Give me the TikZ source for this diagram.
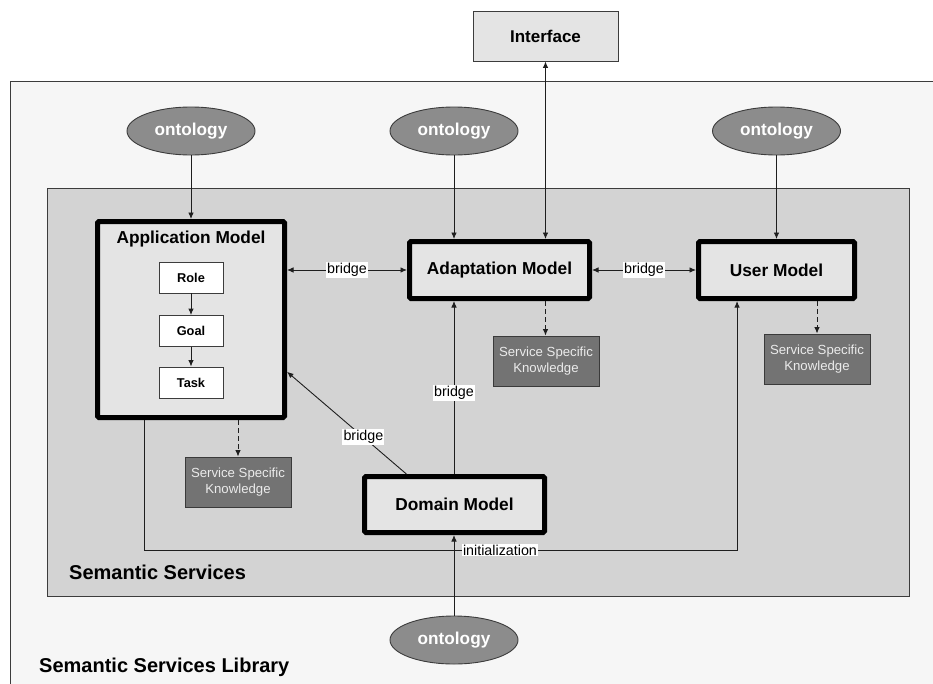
\documentclass[tikz,border=0pt]{standalone}
\usepackage{fontspec}
\setmainfont{Liberation Sans}
\usetikzlibrary{arrows.meta,calc,shapes.geometric}

\definecolor{libfill}{HTML}{F6F6F6}
\definecolor{svcfill}{HTML}{D3D3D3}
\definecolor{modelfill}{HTML}{E4E4E4}
\definecolor{ontofill}{HTML}{8C8C8C}
\definecolor{sskfill}{HTML}{737373}
\definecolor{sskline}{HTML}{3A3A3A}
\definecolor{frame}{HTML}{3C3C3C}
\definecolor{wire}{HTML}{1E1E1E}

\tikzset{
  model/.style={draw=black, line width=5pt, fill=modelfill, rounded corners=1.5pt,
    inner sep=0pt, font=\bfseries\fontsize{17.3}{20}\selectfont},
  ontology/.style={ellipse, draw=frame, line width=0.9pt, fill=ontofill,
    minimum width=128pt, minimum height=48pt, inner sep=0pt,
    text=white, font=\bfseries\fontsize{17.2}{19}\selectfont},
  inner/.style={draw=frame, line width=0.9pt, fill=white, minimum width=64pt,
    minimum height=31pt, inner sep=0pt, font=\bfseries\fontsize{12.8}{14}\selectfont},
  ssk/.style={draw=sskline, line width=0.9pt, fill=sskfill, minimum width=106pt,
    minimum height=50pt, inner sep=0pt, align=center, text=white!92!black,
    font=\fontsize{13.2}{15.5}\selectfont},
  conn/.style={draw=wire, line width=0.9pt},
  tip/.style={-{Latex[length=6.5pt,width=5.5pt]}},
  twotips/.style={{Latex[length=6.5pt,width=5.5pt]}-{Latex[length=6.5pt,width=5.5pt]}},
  dashedlink/.style={draw=wire, line width=0.9pt, dashed, dash pattern=on 5pt off 3pt,
    -{Latex[length=6.5pt,width=5.5pt]}},
  lbl/.style={fill=white, inner sep=1.2pt, font=\fontsize{14.3}{16}\selectfont},
  heading/.style={anchor=west, inner sep=0pt, font=\bfseries\fontsize{20}{23}\selectfont}
}

\begin{document}
\begin{tikzpicture}[x=1pt,y=-1pt]
\useasboundingbox (0,0) rectangle (933,683);
\fill[white] (0,0) rectangle (933,683);

% library frame (runs off the right and bottom edges)
\draw[draw=frame, line width=0.9pt, fill=libfill] (10,81) rectangle (940,690);
% semantic services area
\draw[draw=frame, line width=0.9pt, fill=svcfill] (47,188) rectangle (909,596);

% interface
\node[draw=frame, line width=0.9pt, fill=modelfill, minimum width=145pt, minimum height=50pt,
  inner sep=0pt, font=\bfseries\fontsize{17}{19}\selectfont] (iface) at (545.5,36) {Interface};

% ontologies
\node[ontology] (ont1) at (191,131) {ontology};
\node[ontology] (ont2) at (454,131) {ontology};
\node[ontology] (ont3) at (776.5,131) {ontology};
\node[ontology] (ont4) at (454,640) {ontology};

% models
\node[model, minimum width=187pt, minimum height=196pt] (app) at (191,319.5) {};
\node[inner sep=0pt, font=\bfseries\fontsize{17.3}{20}\selectfont] (apptitle) at (191,239) {Application Model};
\node[inner] (role) at (191,277.5) {Role};
\node[inner] (goal) at (191,331) {Goal};
\node[inner] (task) at (191,382.5) {Task};

\node[model, minimum width=180pt, minimum height=57pt] (adapt) at (499.5,270) {Adaptation Model};
\node[model, minimum width=156pt, minimum height=57pt] (user) at (776.5,270) {User Model};
\node[model, minimum width=180pt, minimum height=56pt] (domain) at (454.5,504.5) {Domain Model};

% service specific knowledge
\node[ssk] (ssk1) at (238,482) {Service Specific\\Knowledge};
\node[ssk] (ssk2) at (546,361) {Service Specific\\Knowledge};
\node[ssk] (ssk3) at (817,359) {Service Specific\\Knowledge};

% ontology links
\draw[conn, tip] (ont1.south) -- (ont1.south |- app.north);
\draw[conn, tip] (ont2.south) -- (ont2.south |- adapt.north);
\draw[conn, tip] (ont3.south) -- (ont3.south |- user.north);
\draw[conn, tip] (ont4.north) -- (ont4.north |- domain.south);
\draw[conn, twotips] (iface.south) -- (iface.south |- adapt.north);

% inner chain
\draw[conn, tip] (role.south) -- (goal.north);
\draw[conn, tip] (goal.south) -- (task.north);

% bridges
\draw[conn, twotips] (app.east |- adapt.west) -- node[lbl] (b1) {bridge} (adapt.west);
\draw[conn, twotips] (adapt.east) -- node[lbl] (b2) {bridge} (user.west);
\draw[conn, tip] (domain.north -| ont2.south) -- node[lbl, pos=0.47] (b3) {bridge} (ont2.south |- adapt.south);
\coordinate (dmleft) at ($(domain.north west)!0.24!(domain.north east)$);
\coordinate (amright) at ($(app.north east)!0.76!(app.south east)$);
\draw[conn, tip] (dmleft) -- node[lbl, pos=0.36] (b4) {bridge} (amright);

% initialization
\coordinate (initstart) at ($(app.south west)!0.255!(app.south east)$);
\coordinate (initend) at ($(user.south west)!0.255!(user.south east)$);
\coordinate (initcorner) at (initstart |- 0,550);
\draw[conn, tip] (initstart) -- (initcorner) -- (initcorner -| initend) -- (initend);
\node[lbl] (initlbl) at (500,550) {initialization};

% knowledge links
\draw[dashedlink] (ssk1.north |- app.south) -- (ssk1.north);
\draw[dashedlink] (iface.south |- adapt.south) -- (iface.south |- ssk2.north);
\draw[dashedlink] (ssk3.north |- user.south) -- (ssk3.north);

% area titles
\node[heading] (svctitle) at (69,572) {Semantic Services};
\node[heading] (libtitle) at (39,667) {Semantic Services Library};
\end{tikzpicture}
\end{document}
